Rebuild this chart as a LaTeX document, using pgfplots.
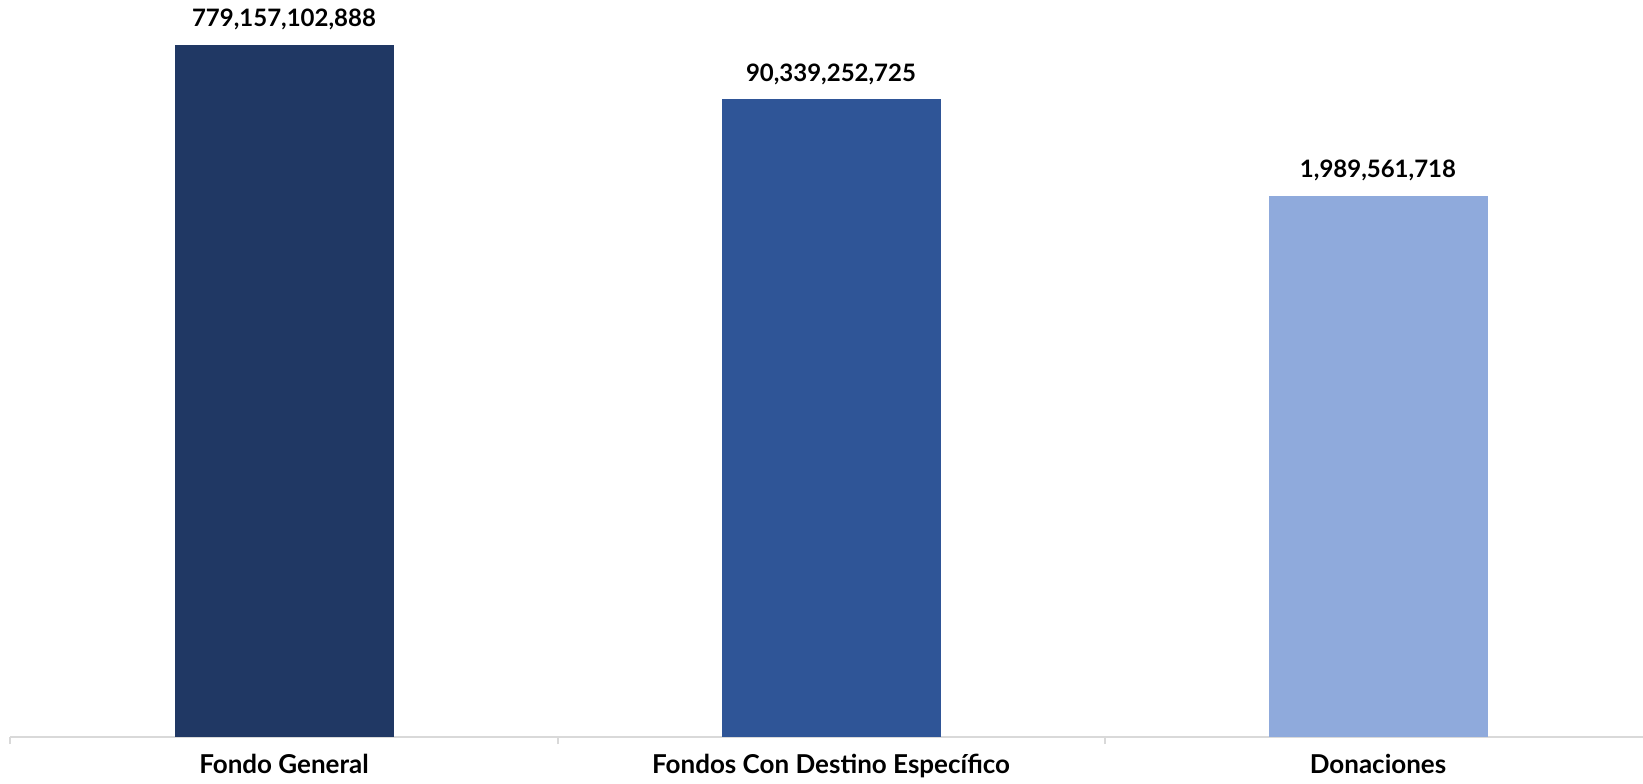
\documentclass[border=0pt]{standalone}
\usepackage{pgfplots}
\pgfplotsset{compat=1.18}
\usepackage{pgfplotstable}
\usepackage{fontspec}
\setmainfont{Lato}
\definecolor{c1}{HTML}{203864}
\definecolor{c2}{HTML}{2F5597}
\definecolor{c3}{HTML}{8FAADC}
\definecolor{axgray}{HTML}{D9D9D9}
\pgfplotstableread{
x y lab
0 779157102888 779,157,102,888
}\tA
\pgfplotstableread{
x y lab
1 90339252725 90,339,252,725
}\tB
\pgfplotstableread{
x y lab
2 1989561718 1,989,561,718
}\tC
\begin{document}
\begin{tikzpicture}[x=1pt,y=1pt]
\begin{axis}[
  at={(5.25pt,23pt)}, anchor=south west,
  scale only axis,
  width=820.5pt, height=368.5pt,
  xmin=-0.5, xmax=2.5,
  ymode=log, ymin=1, ymax=4.6e12,
  axis x line=bottom, axis y line=none,
  axis line style={axgray, line width=1pt, -},
  xtick={0,1,2},
  xticklabels={Fondo General, Fondos Con Destino Específico, Donaciones},
  major tick length=0pt,
  minor xtick={-0.5,0.5,1.5,2.5},
  minor tick length=3.5pt,
  tick align=outside,
  minor tick style={axgray, line width=1pt},
  xticklabel style={font=\bfseries\fontsize{13}{15}\selectfont, anchor=base, yshift=-18pt},
  ybar, bar width=109.5pt, bar shift=0pt,
  point meta=explicit symbolic,
  nodes near coords,
  every node near coord/.append style={font=\bfseries\fontsize{12}{14}\selectfont, anchor=base, yshift=9pt, text=black},
  clip=false,
]
\addplot[fill=c1, draw=none] table[x=x, y=y, meta=lab] {\tA};
\addplot[fill=c2, draw=none] table[x=x, y=y, meta=lab] {\tB};
\addplot[fill=c3, draw=none] table[x=x, y=y, meta=lab] {\tC};
\end{axis}
\pgfresetboundingbox
\useasboundingbox (0,0) rectangle (821.5pt,391.5pt);
\end{tikzpicture}
\end{document}
